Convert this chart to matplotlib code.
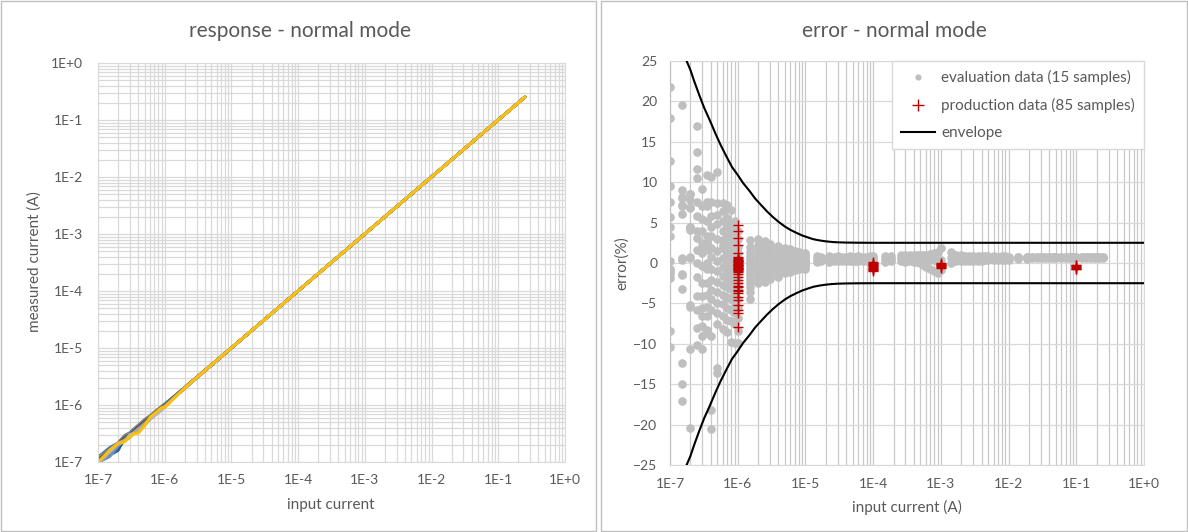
import matplotlib
matplotlib.use("Agg")
import matplotlib.pyplot as plt
from matplotlib.ticker import LogLocator, FuncFormatter, NullFormatter, MultipleLocator
from matplotlib.lines import Line2D
from matplotlib.patches import Rectangle
import numpy as np

plt.rcParams['font.family'] = ['Lato', 'DejaVu Sans']

# evaluation data, low current region: input current (A) of each column
eval_current = [1e-7, 1.5e-7, 2e-7, 2.5e-7, 3e-7, 3.5e-7, 4e-7, 5e-7, 6e-7, 7e-7, 8e-7, 9e-7,
                1e-6, 1.5e-6, 2e-6, 2.5e-6, 3e-6, 4e-6, 5e-6, 6e-6, 7e-6, 8e-6, 1e-5]
# error (%) of the 15 evaluation samples at each current
eval_error = [
    [21.8, 18.0, 12.6, 9.5, 7.6, 5.7, 4.4, 3.4, -0.7, -1.3, -1.8, -8.4, -10.4, 0.3, -1.0],
    [19.6, 9.0, 8.1, 7.0, 6.1, 0.6, -1.4, -3.2, -12.4, -15.0, -17.1, 7.2, 0.4, -1.5, 8.2],
    [8.6, 7.8, 6.8, 4.5, 4.1, 0.6, -5.4, -10.7, -20.4, 4.3, -5.2, 8.5, 0.8, 6.9, 4.4],
    [16.9, 13.7, 11.6, 10.5, 7.6, 5.8, 3.9, 3.1, 1.6, 0.0, -1.7, -4.1, -5.8, -8.0, -10.2],
    [9.1, 7.0, 5.4, 3.9, 2.5, 1.2, -0.4, -2.5, -4.1, -5.6, -6.6, -7.8, -10.6, 2.0, -9.0],
    [10.9, 7.6, 7.0, 5.2, 3.3, 2.5, 1.6, 0.0, -0.8, -2.5, -3.9, -5.4, -6.6, -8.3, -8.7],
    [10.7, 7.6, 5.8, 4.5, 3.3, 1.9, 0.8, -0.8, -2.1, -3.3, -4.5, -5.8, -9.0, -18.2, -20.5],
    [11.3, 7.4, 6.0, 4.8, 3.0, 1.5, 0.2, -1.0, -2.4, -3.6, -5.0, -6.2, -7.5, -13.0, -13.6],
    [7.4, 6.4, 5.2, 4.0, 2.8, 1.8, 0.6, -0.5, -1.6, -2.7, -3.9, -5.1, -6.5, -8.2, 2.2],
    [7.2, 5.6, 4.6, 3.6, 2.6, 1.4, 0.4, -0.8, -1.8, -3.0, -4.2, -5.6, -7.0, -8.6, 1.0],
    [6.6, 5.0, 3.8, 2.8, 1.8, 0.9, -0.2, -1.2, -2.2, -3.2, -4.4, -5.8, -7.2, -9.8, 0.4],
    [5.2, 4.2, 3.2, 2.2, 1.2, 0.2, -0.8, -1.8, -2.8, -3.8, -5.0, -6.2, -7.6, -9.9, 0.6],
    [4.0, 3.0, 2.0, 1.2, 0.5, -0.2, -0.9, -1.6, -2.4, -3.4, -4.4, -5.6, -6.8, -8.4, -9.9],
    [2.8, 2.0, 1.4, 0.9, 0.5, 0.1, -0.3, -0.7, -1.1, -1.5, -2.0, -2.5, -3.0, -3.6, -4.4],
    [3.0, 2.2, 1.6, 1.1, 0.7, 0.3, -0.1, -0.5, -0.9, -1.3, -1.7, -2.1, -2.5, 1.9, -0.2],
    [2.7, 2.0, 1.5, 1.1, 0.7, 0.4, 0.1, -0.2, -0.5, -0.8, -1.1, -1.5, -1.9, -2.3, 0.9],
    [2.3, 1.8, 1.3, 0.9, 0.6, 0.3, 0.0, -0.3, -0.6, -0.9, -1.2, -1.6, -2.0, 1.1, 0.2],
    [2.1, 1.6, 1.2, 0.9, 0.6, 0.3, 0.0, -0.3, -0.6, -0.9, -1.3, -1.7, 0.4, 0.8, -0.1],
    [1.9, 1.5, 1.1, 0.8, 0.5, 0.3, 0.0, -0.3, -0.6, -0.9, -1.2, 1.3, 0.2, -0.4, 0.7],
    [1.7, 1.3, 1.0, 0.7, 0.5, 0.2, 0.0, -0.3, -0.5, -0.8, -1.1, 0.9, 0.3, -0.2, 0.6],
    [1.5, 1.2, 0.9, 0.7, 0.5, 0.3, 0.1, -0.1, -0.3, -0.6, -0.9, 1.0, 0.4, 0.0, 0.6],
    [1.4, 1.1, 0.9, 0.7, 0.5, 0.3, 0.1, -0.1, -0.3, -0.5, -0.8, 0.8, 0.4, 0.2, 0.6],
    [1.2, 1.0, 0.8, 0.6, 0.5, 0.3, 0.2, 0.0, -0.2, -0.4, -0.7, 0.9, 0.4, 0.1, 0.7],
]

# evaluation data, high current region: upper / middle / lower error (%) of the band
flat_current = [1.5e-5, 1.7e-5, 2.2e-5, 2.6e-5, 3e-5, 3.5e-5, 4e-5, 4.5e-5, 5e-5, 5.5e-5, 6e-5, 7e-5, 8e-5, 9e-5, 1e-4,
                1.5e-4, 1.85e-4, 2.6e-4, 3e-4, 3.5e-4, 4e-4, 4.5e-4, 5e-4, 5.5e-4, 6e-4, 7e-4, 8e-4, 9e-4, 1e-3,
                1.4e-3, 1.7e-3, 2e-3, 2.3e-3, 2.6e-3, 3e-3, 3.5e-3, 4e-3, 4.5e-3, 5e-3, 6e-3, 7e-3, 8e-3, 9e-3, 1e-2,
                1.4e-2, 1.9e-2, 2.2e-2, 2.6e-2, 3e-2, 3.5e-2, 4e-2, 4.5e-2, 5e-2, 6e-2, 7e-2, 8e-2, 9e-2, 0.1,
                0.12, 0.14, 0.16, 0.18, 0.2, 0.22, 0.25]
flat_err_hi = [0.9, 0.8, 0.9, 0.8, 0.85, 0.8, 0.8, 0.85, 0.8, 0.8, 0.85, 0.8, 0.8, 0.85, 0.9,
               0.9, 0.9, 1.0, 1.0, 0.95, 1.0, 0.95, 1.0, 0.95, 1.0, 1.1, 1.2, 1.4, 1.8,
               1.3, 1.0, 0.95, 0.9, 0.9, 0.9, 0.85, 0.9, 0.85, 0.85, 0.85, 0.8, 0.85, 0.85, 0.8,
               0.8, 0.8, 0.8, 0.8, 0.8, 0.8, 0.8, 0.8, 0.8, 0.8, 0.8, 0.8, 0.8, 0.8,
               0.8, 0.8, 0.8, 0.8, 0.8, 0.8, 0.8]
flat_err_mid = [0.5, 0.45, 0.5, 0.5, 0.5, 0.5, 0.5, 0.5, 0.5, 0.5, 0.5, 0.5, 0.5, 0.5, 0.5,
                0.5, 0.55, 0.6, 0.55, 0.55, 0.6, 0.55, 0.5, 0.5, 0.45, 0.4, 0.35, 0.3, 0.4,
                0.6, 0.6, 0.6, 0.6, 0.6, 0.6, 0.6, 0.6, 0.6, 0.6, 0.6, 0.6, 0.6, 0.6, 0.6,
                0.7, 0.7, 0.7, 0.7, 0.7, 0.7, 0.7, 0.7, 0.7, 0.7, 0.7, 0.7, 0.7, 0.7,
                0.7, 0.7, 0.7, 0.7, 0.7, 0.7, 0.7]
flat_err_lo = [0.1, 0.2, 0.15, 0.2, 0.2, 0.2, 0.25, 0.2, 0.2, 0.2, 0.2, 0.25, 0.2, 0.2, 0.15,
               0.1, 0.2, 0.2, 0.15, 0.2, 0.15, 0.1, 0.0, -0.2, -0.5, -0.8, -1.0, -1.2, -0.9,
               0.0, 0.2, 0.25, 0.3, 0.3, 0.3, 0.3, 0.3, 0.35, 0.35, 0.35, 0.35, 0.35, 0.4, 0.4,
               0.55, 0.55, 0.6, 0.6, 0.6, 0.6, 0.6, 0.6, 0.6, 0.6, 0.6, 0.6, 0.6, 0.6,
               0.6, 0.6, 0.6, 0.6, 0.6, 0.6, 0.6]

# production data: current (A) and error (%) of the samples
prod_current = [1e-6, 1e-4, 1e-3, 1e-1]
prod_error = [
    [4.7, 3.9, 3.1, 2.2, 1.2, 0.8, 0.6, 0.4, 0.3, 0.2, 0.1, 0.0, -0.1, -0.2, -0.3, -0.4, -0.5,
     -0.6, -0.7, -0.8, -0.9, -1.0, -1.1, 0.5, 0.2, -0.3, -0.6, -1.4, -1.7, -2.1, -2.5, -2.8,
     -3.0, -3.3, -3.5, -3.75, -4.2, -4.6, -5.2, -5.8, -6.2, -7.9],
    [0.1, 0.0, -0.1, -0.2, -0.3, -0.4, -0.5, -0.6, -0.7, -0.8, -0.9, -1.0],
    [0.0, -0.1, -0.2, -0.3, -0.4, -0.5, -0.6],
    [-0.2, -0.3, -0.4, -0.5, -0.6, -0.7, -0.8],
]

# envelope (%)
env_current = [1.76e-7, 2e-7, 2.3e-7, 2.7e-7, 3.2e-7, 3.9e-7, 4.7e-7, 5.6e-7, 6.8e-7, 8.2e-7, 1e-6,
               1.2e-6, 1.5e-6, 1.8e-6, 2.2e-6, 2.7e-6, 3.3e-6, 4e-6, 5e-6, 6e-6, 7.5e-6, 9e-6,
               1.1e-5, 1.3e-5, 1.6e-5, 2e-5, 2.5e-5, 3e-5, 4e-5, 6e-5, 1e-4, 1e-3, 1e-2, 1e-1, 1.0]
env_error = [25.0, 23.9, 22.4, 20.8, 19.2, 17.6, 16.0, 14.6, 13.2, 11.9, 10.9,
             9.9, 8.9, 8.0, 7.2, 6.4, 5.7, 5.1, 4.5, 4.1, 3.7, 3.4,
             3.15, 2.95, 2.8, 2.68, 2.6, 2.56, 2.53, 2.51, 2.5, 2.5, 2.5, 2.5, 2.5]

# line colours of the 15 samples (Excel palette)
sample_colors = ['#4472C4', '#ED7D31', '#5B9BD5', '#70AD47', '#264478', '#9E480E', '#636363',
                 '#997300', '#255E91', '#43682B', '#698ED0', '#F1975A', '#A5A5A5', '#B7B7B7', '#FFC000']

TXT = '#595959'
GRID = '#D9D9D9'


def sci_label(v, pos):
    return "1E{0:+d}".format(int(round(np.log10(v))))


def main():
    fig = plt.figure(figsize=(11.88, 5.32), dpi=100)
    W, H = 1188.0, 532.0
#panel frames
    fig.patches.append(Rectangle((1 / W, 1 / H), 595 / W, 530 / H, transform=fig.transFigure,
                                 fill=False, edgecolor='#BFBFBF', lw=1))
    fig.patches.append(Rectangle((601 / W, 1 / H), 586 / W, 530 / H, transform=fig.transFigure,
                                 fill=False, edgecolor='#BFBFBF', lw=1))
#
# response bloc
#
    axR = fig.add_axes([98 / W, (H - 462) / H, 467 / W, 399 / H])
    for i in range(15):
        x = list(eval_current) + list(flat_current)
        y = [c * (1 + e[i] / 100.0) for c, e in zip(eval_current, eval_error)]
        y += [c * (1 + m / 100.0) for c, m in zip(flat_current, flat_err_mid)]
        axR.plot(x, y, '-', color=sample_colors[i], lw=2.0, solid_joinstyle='round')
    axR.set_xscale('log')
    axR.set_yscale('log')
    axR.set_xlim(1e-7, 1)
    axR.set_ylim(1e-7, 1)
    for ax_ in (axR.xaxis, axR.yaxis):
        ax_.set_major_locator(LogLocator(base=10, numticks=20))
        ax_.set_minor_locator(LogLocator(base=10, subs=np.arange(2, 10), numticks=20))
        ax_.set_major_formatter(FuncFormatter(sci_label))
        ax_.set_minor_formatter(NullFormatter())
    axR.grid(True, which='both', color=GRID, lw=0.9)
    axR.set_axisbelow(True)
    axR.tick_params(which='both', length=0, labelsize=10, labelcolor=TXT)
    axR.tick_params(axis='y', pad=11)
    axR.tick_params(axis='x', pad=9)
    for s in axR.spines.values():
        s.set_color(GRID)
    fig.text(300 / W, 1 - 31 / H, "response - normal mode", ha='center', va='center', fontsize=15, color=TXT)
    fig.text(331 / W, 1 - 505 / H, "input current", ha='center', va='center', fontsize=11, color=TXT)
    fig.text(35 / W, 1 - 262 / H, "measured current (A)", ha='center', va='center', rotation=90,
             fontsize=11, color=TXT)
#
# error bloc
#
    axE = fig.add_axes([670 / W, (H - 465) / H, 474 / W, 404 / H])
    for c, errs in zip(eval_current, eval_error):
        axE.plot([c] * len(errs), errs, 'o', color='#BFBFBF', ms=6.2, mew=0, zorder=3)
    for c, hi, mi, lo in zip(flat_current, flat_err_hi, flat_err_mid, flat_err_lo):
        axE.plot([c, c, c], [hi, mi, lo], 'o', color='#BFBFBF', ms=6.2, mew=0, zorder=3)
    for c, errs in zip(prod_current, prod_error):
        axE.plot([c] * len(errs), errs, '+', color='#C00000', ms=7.5, mew=1.0, zorder=4)
    axE.plot(env_current, env_error, '-', color='black', lw=1.5, zorder=5)
    axE.plot(env_current, [-e for e in env_error], '-', color='black', lw=1.5, zorder=5)
    axE.set_xscale('log')
    axE.set_xlim(1e-7, 1)
    axE.set_ylim(-25, 25)
    axE.xaxis.set_major_locator(LogLocator(base=10, numticks=20))
    axE.xaxis.set_minor_locator(LogLocator(base=10, subs=np.arange(2, 10), numticks=20))
    axE.xaxis.set_major_formatter(FuncFormatter(sci_label))
    axE.xaxis.set_minor_formatter(NullFormatter())
    axE.yaxis.set_major_locator(MultipleLocator(5))
    axE.grid(True, axis='x', which='both', color='#C8C8C8', lw=0.9)
    axE.grid(True, axis='y', which='major', color=GRID, lw=0.9)
    axE.set_axisbelow(True)
    axE.tick_params(which='both', length=0, labelsize=10, labelcolor=TXT)
    axE.tick_params(axis='y', pad=9)
    axE.tick_params(axis='x', pad=9)
    for s in axE.spines.values():
        s.set_color(GRID)
    axE.spines['left'].set_color('#BFBFBF')
    leg = [Line2D([], [], ls='none', marker='o', color='#BFBFBF', ms=4.5, mew=0),
           Line2D([], [], ls='none', marker='+', color='#C00000', ms=8, mew=1.0),
           Line2D([], [], color='black', lw=1.5)]
    lbl = ["evaluation data (15 samples)", "production data (85 samples)", "envelope"]
    lg = axE.legend(leg, lbl, loc='upper right', bbox_to_anchor=(1.0, 1.0), borderaxespad=0,
                    fontsize=11, frameon=True, fancybox=False, framealpha=1, edgecolor=GRID,
                    labelcolor=TXT, handlelength=2.2, handletextpad=0.4, labelspacing=0.85,
                    borderpad=0.6)
    lg.set_zorder(10)
    fig.text(894 / W, 1 - 31 / H, "error - normal mode", ha='center', va='center', fontsize=15, color=TXT)
    fig.text(907 / W, 1 - 507 / H, "input current (A)", ha='center', va='center', fontsize=11, color=TXT)
    fig.text(622 / W, 1 - 263 / H, "error(%)", ha='center', va='center', rotation=90, fontsize=11, color=TXT)
#
    fig.savefig("out.png", dpi=100)
    plt.close(fig)


if __name__ == '__main__':
    main()
